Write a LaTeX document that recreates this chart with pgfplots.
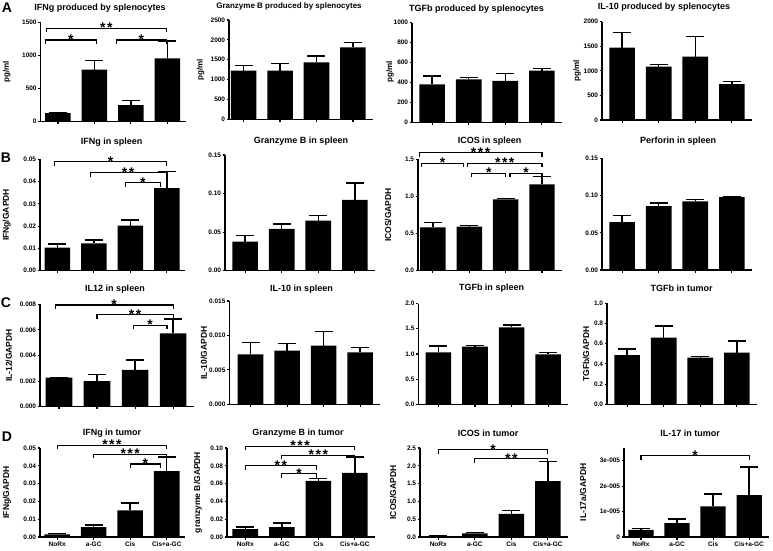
\documentclass[border=0pt]{standalone}
\usepackage{fontspec}
\setmainfont{Liberation Sans}
\usepackage{pgfplots}
\pgfplotsset{compat=1.18}

\newcommand{\oneS}{*}
\newcommand{\twoS}{*\kern1.5pt*}
\newcommand{\threeS}{*\kern1.5pt*\kern1.5pt*}
\newcommand{\brk}[4]{\draw[line width=1.1pt] (axis cs:#1,#3) ++(0pt,-4pt) -- ++(0pt,4pt) -- node[anchor=base, yshift=-4.5pt, inner sep=0pt, font=\fontsize{14}{14}\selectfont\bfseries]{#4} (axis cs:#2,#3) -- ++(0pt,-4pt);}

\pgfplotsset{
 pb/.style={
  scale only axis, clip=false, anchor=south west,
  xmin=0.45, xmax=4.55, ymin=0, width=150pt,
  axis lines=left, axis line style={-, line width=1.3pt},
  xtick={1,2,3,4}, xticklabels={},
  tick align=outside, major tick length=2.5pt,
  tick style={black, line width=1.1pt},
  tick label style={font=\fontsize{6.5}{7}\selectfont\bfseries},
  yticklabel style={inner sep=1.2pt},
  xticklabel style={inner sep=2pt},
  scaled y ticks=false,
  /pgf/number format/assume math mode=true,
  ybar, bar width=0.7,
 },
 bb/.style={fill=black, draw=none, error bars/.cd, y dir=plus, y explicit,
   error bar style={line width=1.5pt, draw=black, fill=none},
   error mark options={rotate=90, line width=1.5pt, draw=black, mark size=9pt}},
 dlab/.style={xticklabels={NoRx,a-GC,Cis,Cis+a-GC}},
}
\newcommand{\ttl}[3]{\node[font=\fontsize{9}{10}\selectfont\bfseries] at (#1pt,-#2pt) {#3};}
\newcommand{\ylab}[3]{\node[rotate=90, font=\fontsize{8.5}{9}\selectfont\bfseries] at (#1pt,-#2pt) {#3};}

\begin{document}
\begin{tikzpicture}
\useasboundingbox (0pt,0pt) rectangle (773pt,-550pt);

% ---------------- Row A ----------------
\begin{axis}[pb, at={(40.5pt,-121.7pt)}, xmin=0.52, xmax=4.5, width=145pt, height=99pt, ymax=1500,
  ytick={0,500,1000,1500}, yticklabels={0,500,1000,1500}]
\addplot[bb] coordinates {(1,130)+-(0,12) (2,790)+-(0,140) (3,250)+-(0,70) (4,960)+-(0,260)};
\brk{0.66}{2.05}{1238}{\oneS}
\brk{0.68}{3.97}{1415}{\twoS}
\brk{2.6}{3.97}{1238}{\oneS}
\end{axis}

\begin{axis}[pb, at={(229pt,-119.3pt)}, xmin=0.6, width=144pt, height=99.3pt, ymax=2500,
  ytick={0,500,1000,1500,2000,2500}, yticklabels={0,500,1000,1500,2000,2500}]
\addplot[bb] coordinates {(1,1225)+-(0,125) (2,1225)+-(0,184) (3,1434)+-(0,160) (4,1812)+-(0,126)};
\end{axis}

\begin{axis}[pb, at={(412pt,-122.3pt)}, height=99.6pt, ymax=1000,
  ytick={0,200,400,600,800,1000}, yticklabels={0,200,400,600,800,1000}]
\addplot[bb] coordinates {(1,381)+-(0,84) (2,431)+-(0,17) (3,415)+-(0,77) (4,518)+-(0,20)};
\end{axis}

\begin{axis}[pb, at={(602pt,-120pt)}, height=98.3pt, ymax=2000,
  ytick={0,500,1000,1500,2000}, yticklabels={0,500,1000,1500,2000}]
\addplot[bb] coordinates {(1,1471)+-(0,312) (2,1085)+-(0,47) (3,1288)+-(0,407) (4,732)+-(0,48)};
\end{axis}

% ---------------- Row B ----------------
\begin{axis}[pb, at={(40pt,-270.6pt)}, xmin=0.52, xmax=4.5, width=145pt, height=111.3pt, ymax=0.05,
  ytick={0,0.01,0.02,0.03,0.04,0.05}, yticklabels={0.00,0.01,0.02,0.03,0.04,0.05}]
\addplot[bb] coordinates {(1,0.0103)+-(0,0.0017) (2,0.0122)+-(0,0.0015) (3,0.0202)+-(0,0.0025) (4,0.0370)+-(0,0.0075)};
\brk{0.93}{3.98}{0.049}{\oneS}
\brk{1.9}{3.98}{0.044}{\twoS}
\brk{2.86}{3.83}{0.0395}{\oneS}
\end{axis}

\begin{axis}[pb, at={(225pt,-270.7pt)}, height=115.7pt, ymax=0.15,
  ytick={0,0.05,0.10,0.15}, yticklabels={0.00,0.05,0.10,0.15}]
\addplot[bb] coordinates {(1,0.0377)+-(0,0.0082) (2,0.0541)+-(0,0.0065) (3,0.0649)+-(0,0.0065) (4,0.0918)+-(0,0.0216)};
\end{axis}

\begin{axis}[pb, at={(418pt,-270.3pt)}, xmin=0.59, width=144pt, height=111pt, ymax=1.5,
  ytick={0,0.5,1.0,1.5}, yticklabels={0.0,0.5,1.0,1.5}]
\addplot[bb] coordinates {(1,0.581)+-(0,0.063) (2,0.590)+-(0,0.014) (3,0.959)+-(0,0.014) (4,1.162)+-(0,0.104)};
\brk{0.62}{4.0}{1.59}{\threeS}
\brk{0.69}{1.84}{1.446}{\oneS}
\brk{1.95}{4.0}{1.446}{\threeS}
\brk{2.07}{3.0}{1.31}{\oneS}
\brk{3.12}{4.0}{1.31}{\oneS}
\end{axis}

\begin{axis}[pb, at={(602pt,-270pt)}, height=111.7pt, ymax=0.15,
  ytick={0,0.05,0.10,0.15}, yticklabels={0.00,0.05,0.10,0.15}]
\addplot[bb] coordinates {(1,0.0644)+-(0,0.0089) (2,0.0858)+-(0,0.004) (3,0.092)+-(0,0.0027) (4,0.0978)+-(0,0)};
\end{axis}

% ---------------- Row C ----------------
\begin{axis}[pb, at={(40pt,-406.7pt)}, xmin=0.5, xmax=4.55, width=154pt, height=102.4pt, ymax=0.008,
  ytick={0,0.002,0.004,0.006,0.008}, yticklabels={0.000,0.002,0.004,0.006,0.008}]
\addplot[bb] coordinates {(1,0.00227)+-(0,0.00003) (2,0.0020)+-(0,0.00053) (3,0.00287)+-(0,0.00078) (4,0.00573)+-(0,0.00112)};
\brk{0.9}{4.0}{0.00795}{\oneS}
\brk{2.0}{4.0}{0.00717}{\twoS}
\brk{2.95}{3.84}{0.00638}{\oneS}
\end{axis}

\begin{axis}[pb, at={(229.3pt,-404.3pt)}, xmin=0.42, width=151pt, height=103.3pt, ymax=0.015,
  ytick={0,0.005,0.010,0.015}, yticklabels={0.000,0.005,0.010,0.015}]
\addplot[bb] coordinates {(1,0.00726)+-(0,0.00174) (2,0.0078)+-(0,0.00106) (3,0.00852)+-(0,0.00208) (4,0.00755)+-(0,0.00068)};
\end{axis}

\begin{axis}[pb, at={(418.3pt,-404.3pt)}, height=100.7pt, ymax=2.0,
  ytick={0,0.5,1.0,1.5,2.0}, yticklabels={0.0,0.5,1.0,1.5,2.0}]
\addplot[bb] coordinates {(1,1.033)+-(0,0.126) (2,1.146)+-(0,0.02) (3,1.53)+-(0,0.046) (4,0.993)+-(0,0.04)};
\end{axis}

\begin{axis}[pb, at={(607pt,-404.3pt)}, height=101pt, ymax=1.0,
  ytick={0,0.2,0.4,0.6,0.8,1.0}, yticklabels={0.0,0.2,0.4,0.6,0.8,1.0}]
\addplot[bb] coordinates {(1,0.488)+-(0,0.06) (2,0.66)+-(0,0.116) (3,0.462)+-(0,0.013) (4,0.512)+-(0,0.115)};
\end{axis}

% ---------------- Row D ----------------
\begin{axis}[pb, dlab, at={(40pt,-537pt)}, xmin=0.53, xmax=4.5, width=145pt, height=89pt, ymax=0.05,
  ytick={0,0.01,0.02,0.03,0.04,0.05}, yticklabels={0.00,0.01,0.02,0.03,0.04,0.05}]
\addplot[bb] coordinates {(1,0.0015)+-(0,0.0005) (2,0.0055)+-(0,0.0012) (3,0.015)+-(0,0.004) (4,0.037)+-(0,0.008)};
\brk{1.0}{4.0}{0.0515}{\threeS}
\brk{2.0}{4.0}{0.0465}{\threeS}
\brk{3.0}{3.83}{0.041}{\oneS}
\end{axis}

\begin{axis}[pb, dlab, at={(227pt,-537pt)}, xmin=0.5, width=148pt, height=89pt, ymax=0.10,
  ytick={0,0.02,0.04,0.06,0.08,0.10}, yticklabels={0.00,0.02,0.04,0.06,0.08,0.10}]
\addplot[bb] coordinates {(1,0.009)+-(0,0.002) (2,0.011)+-(0,0.005) (3,0.063)+-(0,0.003) (4,0.072)+-(0,0.018)};
\brk{1.0}{4.0}{0.102}{\threeS}
\brk{2.0}{4.0}{0.092}{\threeS}
\brk{1.0}{2.95}{0.080}{\twoS}
\brk{2.0}{2.95}{0.071}{\oneS}
\end{axis}

\begin{axis}[pb, dlab, at={(420pt,-537pt)}, xmin=0.5, width=148pt, height=89pt, ymax=2.5,
  ytick={0,0.5,1.0,1.5,2.0,2.5}, yticklabels={0.0,0.5,1.0,1.5,2.0,2.5}]
\addplot[bb] coordinates {(1,0.02)+-(0,0.005) (2,0.1)+-(0,0.03) (3,0.65)+-(0,0.1) (4,1.57)+-(0,0.55)};
\brk{1.0}{4.0}{2.45}{\oneS}
\brk{2.0}{4.0}{2.2}{\twoS}
\end{axis}

\begin{axis}[pb, dlab, at={(624pt,-537pt)}, xmin=0.53, width=145pt, height=89pt, ymax=3.5e-5,
  ytick={0,1e-5,2e-5,3e-5}, yticklabels={0,1e-005,2e-005,3e-005}]
\addplot[bb] coordinates {(1,2.8e-6)+-(0,0.5e-6) (2,5.5e-6)+-(0,1.5e-6) (3,1.2e-5)+-(0,0.5e-5) (4,1.65e-5)+-(0,1.1e-5)};
\brk{1.0}{4.0}{3.2e-5}{\oneS}
\end{axis}

% ---------------- Titles ----------------
\ttl{100}{8}{IFNg produced by splenocytes}
\node[font=\fontsize{8}{9}\selectfont\bfseries] at (289pt,-6.7pt) {Granzyme B produced by splenocytes};
\ttl{476.5}{9}{TGFb produced by splenocytes}
\ttl{664}{7.5}{IL-10 produced by splenocytes}
\ttl{111.7}{142.5}{IFNg in spleen}
\ttl{301}{141}{Granzyme B in spleen}
\ttl{489.5}{141}{ICOS in spleen}
\ttl{678}{141}{Perforin in spleen}
\ttl{115}{289.5}{IL12 in spleen}
\ttl{301.5}{289}{IL-10 in spleen}
\ttl{491.5}{288}{TGFb in spleen}
\ttl{681.5}{288}{TGFb in tumor}
\ttl{112}{433}{IFNg in tumor}
\ttl{298}{433}{Granzyme B in tumor}
\ttl{488}{433}{ICOS in tumor}
\ttl{690}{433}{IL-17 in tumor}

% ---------------- Y labels ----------------
\node[rotate=90, font=\fontsize{8}{9}\selectfont\bfseries] at (6.7pt,-72pt) {pg/ml};
\node[rotate=90, font=\fontsize{8}{9}\selectfont\bfseries] at (200.5pt,-70pt) {pg/ml};
\node[rotate=90, font=\fontsize{8}{9}\selectfont\bfseries] at (390pt,-72pt) {pg/ml};
\node[rotate=90, font=\fontsize{8}{9}\selectfont\bfseries] at (577pt,-71pt) {pg/ml};
\ylab{6.7}{215}{IFNg/GAPDH}
\ylab{388}{215}{ICOS/GAPDH}
\ylab{9}{355.5}{IL-12/GAPDH}
\ylab{204}{353}{IL-10/GAPDH}
\ylab{586}{354}{TGFb/GAPDH}
\ylab{7}{492.5}{IFNg/GAPDH}
\ylab{198}{492.5}{granzyme B/GAPDH}
\ylab{393}{492.5}{ICOS/GAPDH}
\ylab{583}{492.5}{IL-17a/GAPDH}

% ---------------- Panel letters ----------------
\node[font=\fontsize{14}{14}\selectfont\bfseries] at (7pt,-8pt) {A};
\node[font=\fontsize{14}{14}\selectfont\bfseries] at (6pt,-158pt) {B};
\node[font=\fontsize{14}{14}\selectfont\bfseries] at (6pt,-303pt) {C};
\node[font=\fontsize{14}{14}\selectfont\bfseries] at (7pt,-437pt) {D};
\end{tikzpicture}
\end{document}
